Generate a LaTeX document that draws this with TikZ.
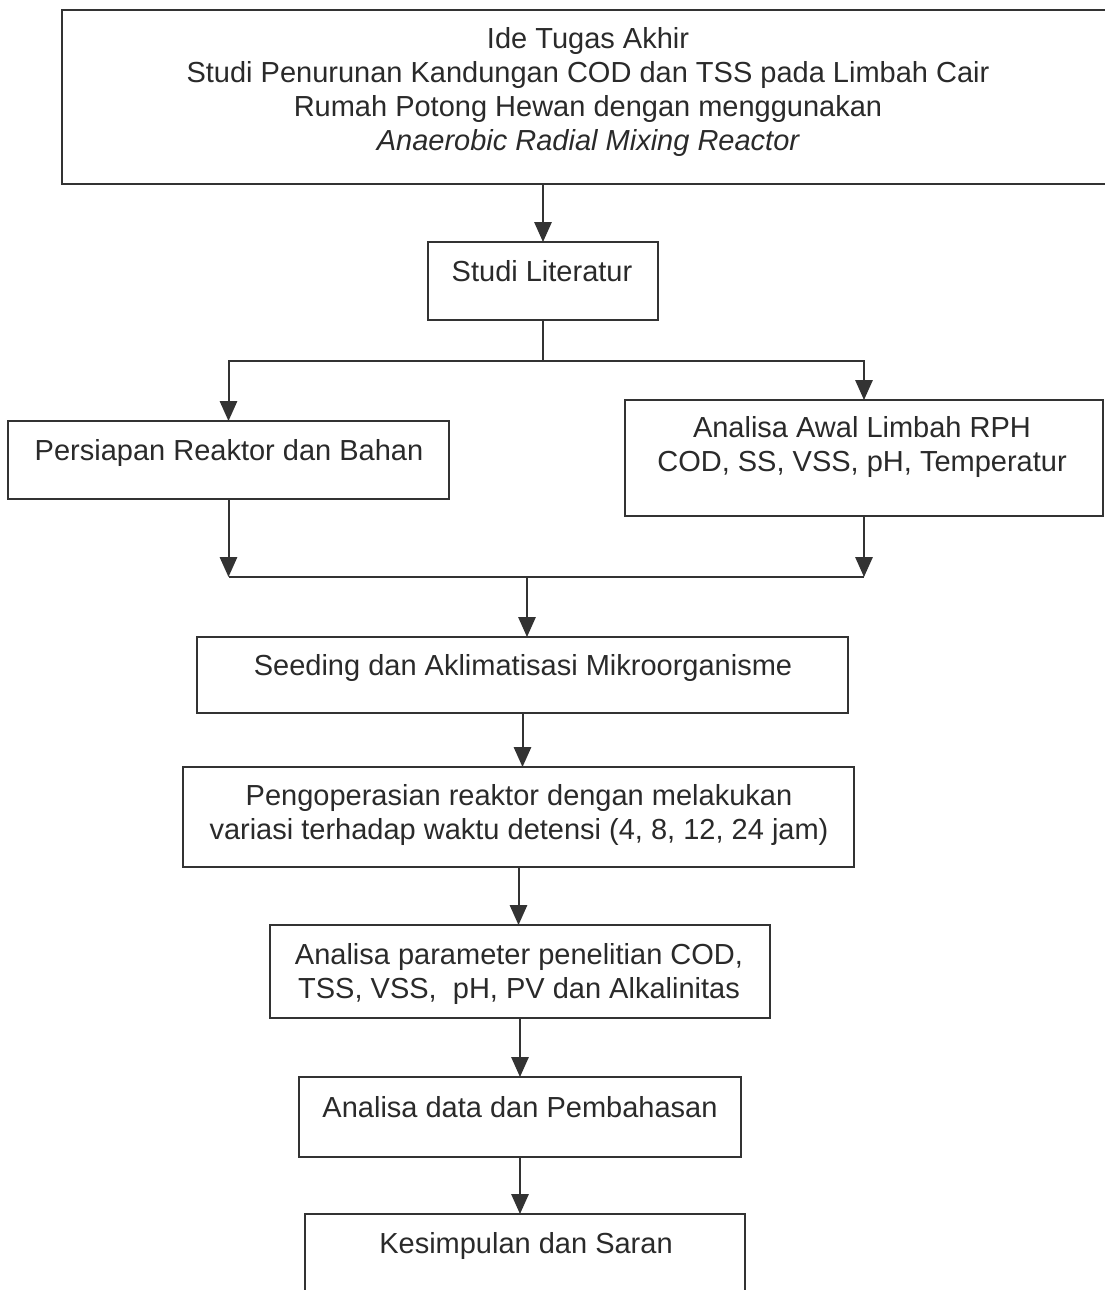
\documentclass[tikz,border=0pt]{standalone}
\usepackage{fontspec}
\setmainfont{Liberation Sans}
\usetikzlibrary{arrows.meta}
\definecolor{ink}{HTML}{333333}
\definecolor{txt}{HTML}{2A2A2A}
\tikzset{
  box/.style={draw=ink, line width=1.5pt, inner sep=0pt, outer sep=0pt, anchor=north west, fill=none},
  lbl/.style={anchor=base, inner sep=0pt, text=txt, font=\fontsize{21.75}{25.5}\selectfont},
  conn/.style={draw=ink, line width=1.5pt},
  arr/.style={conn, -{Triangle[length=15pt,width=13pt]}}
}
\newcommand{\lines}[1]{\begin{tabular}[t]{@{}c@{}}#1\end{tabular}}
\begin{document}
\begin{tikzpicture}[x=0.75pt,y=-0.75pt]
\useasboundingbox (0,0) rectangle (1105,1290);
\fill[white] (0,0) rectangle (1105,1290);
% boxes
\node[box, minimum width=789pt, minimum height=130.5pt] (top) at (62,10) {};
\node[box, minimum width=172.5pt, minimum height=58.5pt] (lit) at (428,242) {};
\node[box, minimum width=330.75pt, minimum height=58.5pt] (left) at (8,421) {};
\node[box, minimum width=358.5pt, minimum height=87pt] (right) at (625,400) {};
\node[box, minimum width=488.25pt, minimum height=57pt] (seed) at (197,637) {};
\node[box, minimum width=503.25pt, minimum height=75pt] (peng) at (183,767) {};
\node[box, minimum width=375pt, minimum height=69.75pt] (par) at (270,925) {};
\node[box, minimum width=331.5pt, minimum height=60pt] (data) at (299,1077) {};
\node[box, minimum width=330pt, minimum height=66pt] (kes) at (305,1214) {};
% texts
\node[lbl] (ttop) at (588,48) {\lines{Ide Tugas Akhir\\
  Studi Penurunan Kandungan COD dan TSS pada Limbah Cair\\
  Rumah Potong Hewan dengan menggunakan\\
  \itshape Anaerobic Radial Mixing Reactor}};
\node[lbl] (tlit) at (542,281.5) {Studi Literatur};
\node[lbl] (tleft) at (229,460) {Persiapan Reaktor dan Bahan};
\node[lbl] (tright) at (862,437) {\lines{Analisa Awal Limbah RPH\\COD, SS, VSS, pH, Temperatur}};
\node[lbl] (tseed) at (523,675) {Seeding dan Aklimatisasi Mikroorganisme};
\node[lbl] (tpeng) at (519,805) {\lines{Pengoperasian reaktor dengan melakukan\\variasi terhadap waktu detensi (4, 8, 12, 24 jam)}};
\node[lbl] (tpar) at (519,964) {\lines{Analisa parameter penelitian COD,\\TSS, VSS,\ \ pH, PV dan Alkalinitas}};
\node[lbl] (tdata) at (520,1117) {Analisa data dan Pembahasan};
\node[lbl] (tkes) at (526,1253) {Kesimpulan dan Saran};
% junction points
\coordinate (j1) at (543,361);
\coordinate (j2) at (527,577);
% connectors
\draw[arr] (top.south -| lit.north) -- (lit.north);
\draw[conn] (lit.south) -- (j1);
\draw[arr] (j1) -| (left.north);
\draw[arr] (j1) -| (right.north);
\draw[arr] (left.south) -- (left.south |- j2);
\draw[arr] (right.south) -- (right.south |- j2);
\draw[conn] (left.south |- j2) -- (right.south |- j2);
\draw[arr] (j2) -- (j2 |- seed.north);
\draw[arr] (seed.south) -- (seed.south |- peng.north);
\draw[arr] (peng.south) -- (peng.south |- par.north);
\draw[arr] (par.south) -- (par.south |- data.north);
\draw[arr] (data.south) -- (data.south |- kes.north);
\end{tikzpicture}
\end{document}
